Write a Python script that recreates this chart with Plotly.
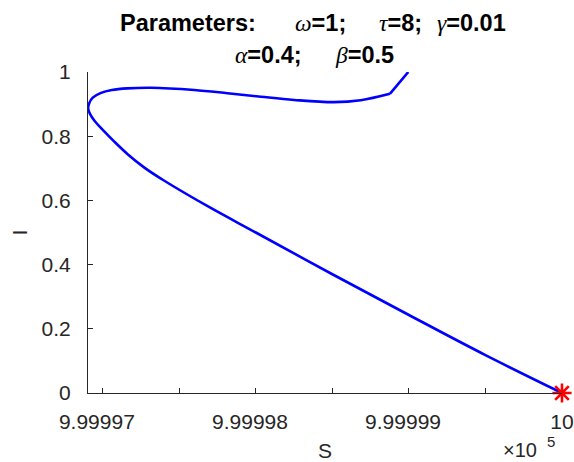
import plotly.graph_objects as go

# ---- data ----
S_curve = [1000000.000, 999999.500, 999999.000, 999998.500, 999998.000, 999997.700,
           999997.400, 999997.270, 999997.163, 999997.074, 999997.010, 999996.945, 999996.918,
           999996.905, 999996.912, 999996.935, 999996.989, 999997.060, 999997.160,
           999997.315, 999997.598, 999997.815, 999998.033, 999998.250, 999998.511,
           999998.685, 999998.876]
I_curve = [0.000, 0.118, 0.243, 0.370, 0.500, 0.578,
           0.662, 0.703, 0.744, 0.784, 0.815, 0.849, 0.869,
           0.886, 0.903, 0.920, 0.935, 0.944, 0.949,
           0.951, 0.944, 0.934, 0.923, 0.913, 0.906,
           0.912, 0.932]
S_tail = [999998.876, 999998.996]
I_tail = [0.932, 1.000]
S_start = [1000000.0]
I_start = [0.0]

x_tickvals = [999997.0, 999997.5, 999998.0, 999998.5, 999999.0, 999999.5, 1000000.0]
x_ticktext = ["9.99997", "", "9.99998", "", "9.99999", "", "10"]
y_tickvals = [0, 0.2, 0.4, 0.6, 0.8, 1]
y_ticktext = ["0", "0.2", "0.4", "0.6", "0.8", "1"]

title_line1 = ["<b>Parameters:</b>", "ω|=1;", "τ|=8;", "γ|=0.01"]
title_line2 = ["α|=0.4;", "β|=0.5"]

# ---- layout geometry ----
W, H = 574, 462
ML, MR, MT, MB = 88, 12, 72, 69
PW, PH = W - ML - MR, H - MT - MB
SANS = "Liberation Sans, Arial, Helvetica, sans-serif"
SERIF = "Liberation Serif, Times New Roman, serif"
GRAY = "#262626"
NB = "\u00a0"


def px(x):
    return (x - ML) / PW


def py(y):
    return (H - MB - y) / PH


# MATLAB draws the long tick labels a few pixels left of their ticks
x_ticktext_drawn = [t + (NB * 2 if len(t) > 3 else "") for t in x_ticktext]

fig = go.Figure()
fig.add_trace(go.Scatter(x=S_curve, y=I_curve, mode="lines",
                         line=dict(color="#0000ff", width=2.6, shape="spline", smoothing=1.0),
                         showlegend=False, hoverinfo="skip"))
fig.add_trace(go.Scatter(x=S_tail, y=I_tail, mode="lines",
                         line=dict(color="#0000ff", width=2.6),
                         showlegend=False, hoverinfo="skip"))
fig.add_trace(go.Scatter(x=S_start, y=I_start, mode="markers", cliponaxis=False,
                         marker=dict(symbol="asterisk-open", size=16, color="#ff0000",
                                     line=dict(color="#ff0000", width=2.6)),
                         showlegend=False, hoverinfo="skip"))


def piece(txt):
    if "|" in txt:
        g, rest = txt.split("|")
        return ('<span style="font-family:%s;font-style:italic;font-weight:normal">%s</span><b>%s</b>'
                % (SERIF, g, rest))
    return txt


annotations = []
line1_x = [118, 293, 377, 435]
line2_x = [233, 333]
for t, xx in zip(title_line1, line1_x):
    annotations.append(dict(text=piece(t), x=px(xx), y=py(23), xref="paper", yref="paper",
                            xanchor="left", yanchor="middle", showarrow=False,
                            font=dict(family=SANS, size=23.5, color="#000000")))
for t, xx in zip(title_line2, line2_x):
    annotations.append(dict(text=piece(t), x=px(xx), y=py(55), xref="paper", yref="paper",
                            xanchor="left", yanchor="middle", showarrow=False,
                            font=dict(family=SANS, size=23.5, color="#000000")))
annotations.append(dict(text="×10", x=px(502), y=py(450), xref="paper", yref="paper",
                        xanchor="left", yanchor="middle", showarrow=False, borderpad=0,
                        font=dict(family=SANS, size=20, color=GRAY)))
annotations.append(dict(text="5", x=px(546), y=py(441), xref="paper", yref="paper",
                        xanchor="left", yanchor="middle", showarrow=False, borderpad=0,
                        font=dict(family=SANS, size=15, color=GRAY)))

fig.update_layout(
    width=W, height=H,
    margin=dict(l=ML, r=MR, t=MT, b=MB, autoexpand=False),
    paper_bgcolor="white", plot_bgcolor="white",
    font=dict(family=SANS, size=21, color=GRAY),
    annotations=annotations,
    xaxis=dict(range=[999996.904, 1000000.0], tickvals=x_tickvals, ticktext=x_ticktext_drawn,
               ticks="inside", ticklen=5, tickwidth=1, tickcolor=GRAY,
               tickfont=dict(size=21), ticklabeloverflow="allow",
               showline=True, linecolor=GRAY, linewidth=1, mirror=False,
               showgrid=False, zeroline=False, automargin=False, ticklabelstandoff=10,
               title=dict(text="S", standoff=11, font=dict(size=21, color=GRAY))),
    yaxis=dict(range=[0, 1], tickvals=y_tickvals, ticktext=y_ticktext,
               ticks="inside", ticklen=5, tickwidth=1, tickcolor=GRAY,
               ticklabeloverflow="allow",
               showline=True, linecolor=GRAY, linewidth=1, mirror=False,
               showgrid=False, zeroline=False, ticklabelstandoff=12, automargin=False,
               title=dict(text="I", standoff=8, font=dict(size=21, color=GRAY))),
)

fig.write_html("out.html")
